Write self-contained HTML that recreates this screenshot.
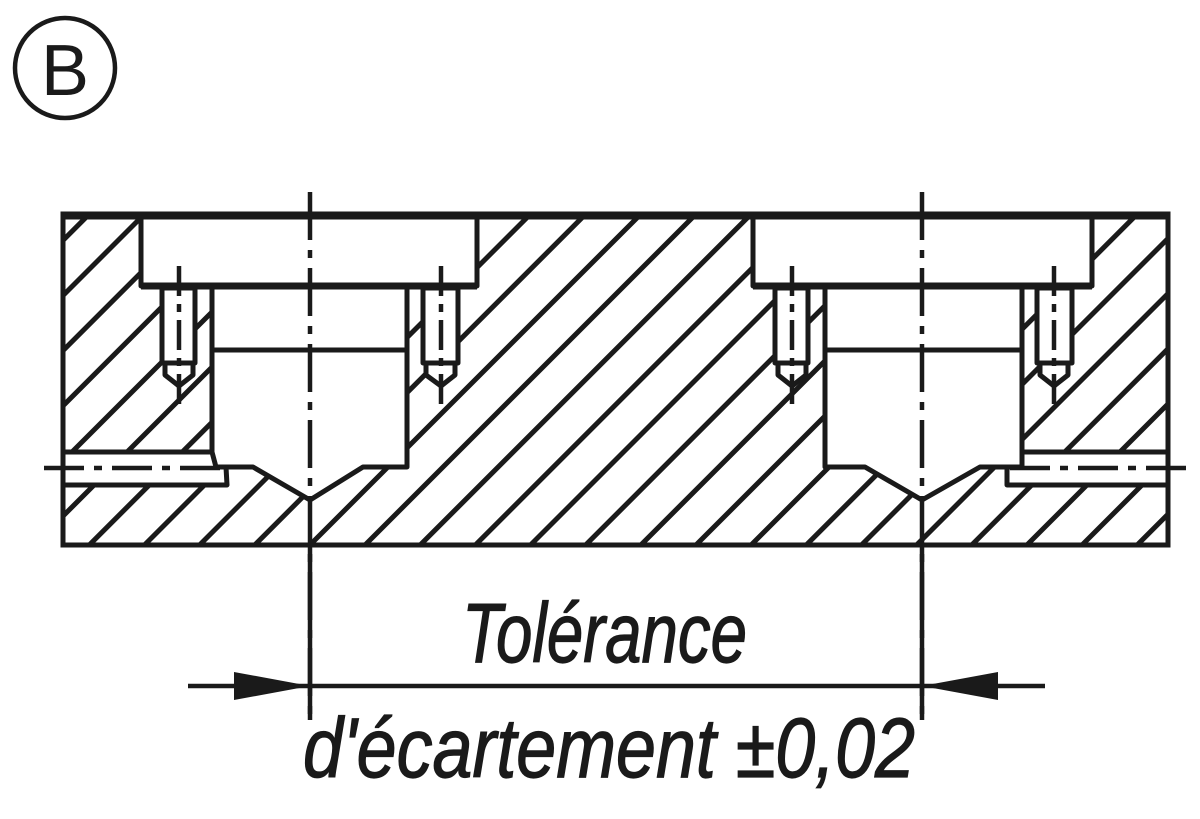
<!DOCTYPE html>
<html><head><meta charset="utf-8"><style>html,body{margin:0;padding:0;background:#fff}svg{display:block}</style></head>
<body>
<svg width="1200" height="819" viewBox="0 0 1200 819" xmlns="http://www.w3.org/2000/svg">
<defs>
<pattern id="h" patternUnits="userSpaceOnUse" width="39" height="39" patternTransform="rotate(45)">
<rect x="17" y="0" width="5" height="39" fill="#1a1a1a"/>
</pattern>
</defs>
<circle cx="65" cy="68" r="50" fill="none" stroke="#1a1a1a" stroke-width="4.5"/>
<text x="65" y="95" font-family="Liberation Sans, sans-serif" font-size="72" text-anchor="middle" fill="#1a1a1a">B</text>

<rect x="63" y="214" width="1105" height="331" fill="url(#h)"/>
<g fill="#fff" stroke="#1a1a1a" stroke-width="5" stroke-linejoin="round">
<rect x="141" y="214" width="336" height="72"/>
<path d="M212 286 H407 V467 H363 L310 500 L253 467 H212 Z"/>
<path d="M63 452 H212 L216 467 H226 L227 485 H63 Z"/>
<rect x="162" y="288" width="33" height="75"/>
<path d="M165 363 V375 L179 386 L193 375 V363 Z"/>
<rect x="423" y="288" width="35" height="75"/>
<path d="M426 363 V375 L441 386 L455 375 V363 Z"/>
<rect x="753" y="214" width="339" height="72"/>
<path d="M825 286 H1022 V467 H980 L922 500 L865 467 H825 Z"/>
<path d="M1168 452 H1022 V467 H1007 V485 H1168 Z"/>
<rect x="775" y="288" width="33" height="75"/>
<path d="M778 363 V375 L792 386 L806 375 V363 Z"/>
<rect x="1037" y="288" width="35" height="75"/>
<path d="M1040 363 V375 L1054 386 L1068 375 V363 Z"/>
</g>
<line x1="212" y1="350" x2="407" y2="350" stroke="#1a1a1a" stroke-width="5"/>
<line x1="825" y1="350" x2="1022" y2="350" stroke="#1a1a1a" stroke-width="5"/>
<rect x="63" y="214" width="1105" height="331" fill="none" stroke="#1a1a1a" stroke-width="5"/>
<line x1="63" y1="216" x2="1168" y2="216" stroke="#1a1a1a" stroke-width="7"/>
<line x1="141" y1="286" x2="477" y2="286" stroke="#1a1a1a" stroke-width="7"/>
<line x1="753" y1="286" x2="1092" y2="286" stroke="#1a1a1a" stroke-width="7"/>

<g stroke="#1a1a1a" stroke-width="4.5" fill="none">
<line x1="310" y1="192" x2="310" y2="720" stroke-dasharray="48,10,8,10"/>
<line x1="922" y1="192" x2="922" y2="720" stroke-dasharray="48,10,8,10"/>
<line x1="310" y1="545" x2="310" y2="720"/>
<line x1="922" y1="545" x2="922" y2="720"/>
<line x1="179" y1="266" x2="179" y2="405" stroke-dasharray="30,8,8,8"/>
<line x1="441" y1="266" x2="441" y2="405" stroke-dasharray="30,8,8,8"/>
<line x1="792" y1="266" x2="792" y2="405" stroke-dasharray="30,8,8,8"/>
<line x1="1054" y1="266" x2="1054" y2="405" stroke-dasharray="30,8,8,8"/>
<line x1="44" y1="468" x2="228" y2="468" stroke-dasharray="40,10,8,10"/>
<line x1="1010" y1="468" x2="1190" y2="468" stroke-dasharray="40,10,8,10"/>
<line x1="188" y1="686" x2="1045" y2="686"/>
</g>
<path d="M310 686 L234 672 V700 Z" fill="#1a1a1a"/>
<path d="M922 686 L998 672 V700 Z" fill="#1a1a1a"/>
<g font-family="Liberation Sans, sans-serif" font-style="italic" fill="#1a1a1a" stroke="#1a1a1a" stroke-width="1.2" font-size="84">
<text x="462" y="662" textLength="285" lengthAdjust="spacingAndGlyphs">Tolérance</text>
<text x="303" y="777" textLength="612" lengthAdjust="spacingAndGlyphs">d'écartement ±0,02</text>
</g>
</svg>
</body></html>
